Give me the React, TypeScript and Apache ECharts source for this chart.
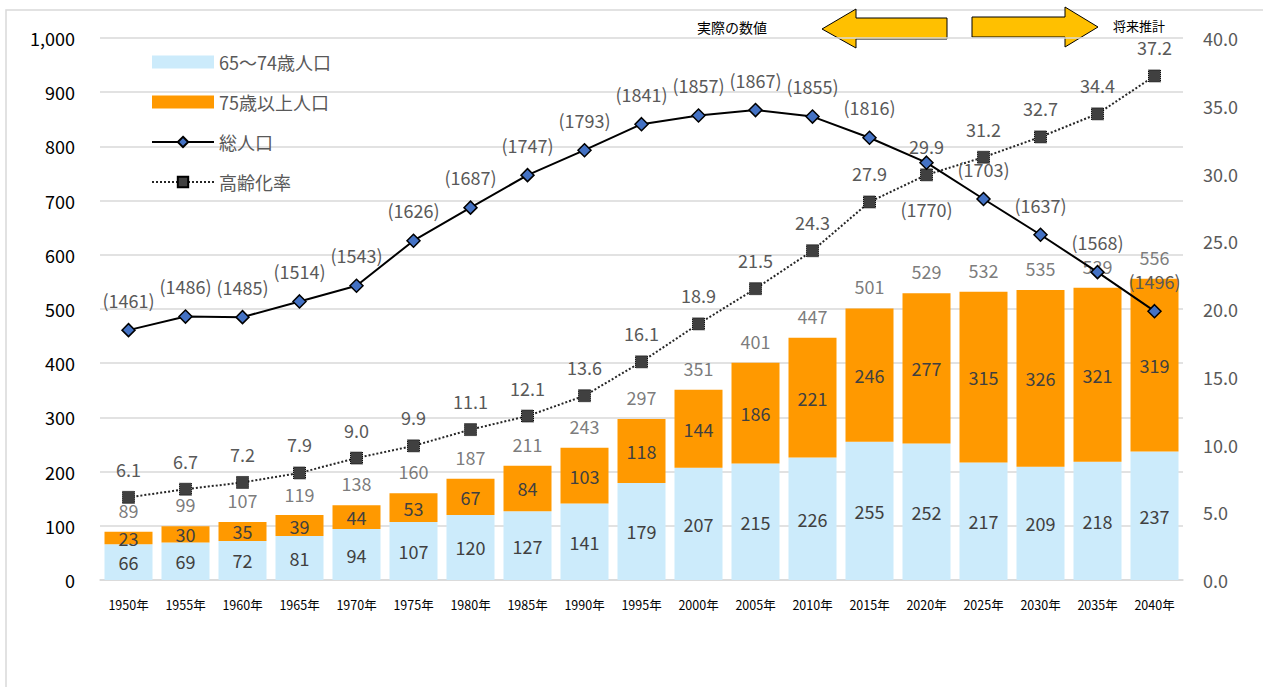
import React, { useEffect, useRef } from "react";
import * as echarts from "echarts";

const years = ["1950年","1955年","1960年","1965年","1970年","1975年","1980年","1985年","1990年","1995年","2000年","2005年","2010年","2015年","2020年","2025年","2030年","2035年","2040年"];
const pop65to74 = [66,69,72,81,94,107,120,127,141,179,207,215,226,255,252,217,209,218,237];
const pop75plus = [23,30,35,39,44,53,67,84,103,118,144,186,221,246,277,315,326,321,319];
const elderlyTotal = [89,99,107,119,138,160,187,211,243,297,351,401,447,501,529,532,535,539,556];
const totalPopulation = [1461,1486,1485,1514,1543,1626,1687,1747,1793,1841,1857,1867,1855,1816,1770,1703,1637,1568,1496];
const agingRate = [6.1,6.7,7.2,7.9,9.0,9.9,11.1,12.1,13.6,16.1,18.9,21.5,24.3,27.9,29.9,31.2,32.7,34.4,37.2];
const totalOffset = 1000; // total population plotted on the left axis as value - 1000

const FONT = "'Noto Sans CJK JP', 'Noto Sans', sans-serif";

export default function App() {
  const ref = useRef<HTMLDivElement>(null);
  useEffect(() => {
    if (!ref.current) return;
    const chart = echarts.init(ref.current, undefined, { renderer: "svg" });
    const labelGray = "#595959";
    chart.setOption({
      animation: false,
      backgroundColor: "#fff",
      textStyle: { fontFamily: FONT },
      grid: { left: 100, right: 80, top: 38, bottom: 107 },
      legend: {
        orient: "vertical",
        left: 146,
        top: 47,
        itemWidth: 62,
        itemHeight: 13,
        itemGap: 20,
        textStyle: { color: labelGray, fontSize: 18, fontFamily: FONT, lineHeight: 20 },
        data: [
          { name: "65～74歳人口", icon: "rect" },
          { name: "75歳以上人口", icon: "rect" },
          { name: "総人口" },
          { name: "高齢化率" },
        ],
      },
      xAxis: {
        type: "category",
        data: years,
        axisTick: { show: false },
        axisLine: { lineStyle: { color: "#d9d9d9", width: 1.5 } },
        axisLabel: { color: "#000", fontSize: 12.5, margin: 18, fontFamily: FONT },
      },
      yAxis: [
        {
          type: "value",
          min: 0,
          max: 1000,
          interval: 100,
          axisLabel: {
            color: "#000",
            fontSize: 18,
            margin: 25,
            fontFamily: FONT,
            formatter: (v: number) => v.toLocaleString("en-US"),
          },
          splitLine: { lineStyle: { color: "#d9d9d9", width: 1.5 } },
          axisLine: { show: false },
          axisTick: { show: false },
        },
        {
          type: "value",
          min: 0,
          max: 40,
          interval: 5,
          position: "right",
          axisLabel: {
            color: labelGray,
            fontSize: 18,
            margin: 20,
            fontFamily: FONT,
            formatter: (v: number) => v.toFixed(1),
          },
          splitLine: { show: false },
          axisLine: { show: false },
          axisTick: { show: false },
        },
      ],
      series: [
        {
          name: "65～74歳人口",
          type: "bar",
          stack: "elderly",
          barWidth: 48,
          data: pop65to74,
          itemStyle: { color: "#CCEBFB" },
          label: { show: true, position: "inside", color: "#404040", fontSize: 18, fontFamily: FONT },
          z: 2,
        },
        {
          name: "75歳以上人口",
          type: "bar",
          stack: "elderly",
          barWidth: 48,
          data: pop75plus,
          itemStyle: { color: "#FF9900" },
          label: { show: true, position: "inside", color: "#404040", fontSize: 18, fontFamily: FONT },
          z: 2,
        },
        {
          name: "合計",
          type: "scatter",
          data: elderlyTotal,
          symbolSize: 0,
          silent: true,
          label: { show: true, position: "top", distance: 13, color: labelGray, fontSize: 18, fontFamily: FONT },
          z: 3,
        },
        {
          name: "総人口",
          type: "line",
          data: totalPopulation.map((v, i) => ({
            value: v - totalOffset,
            label: i === 14 ? { position: "bottom", distance: 30 } : undefined,
          })),
          symbol: "diamond",
          symbolSize: 13,
          lineStyle: { color: "#000", width: 2 },
          itemStyle: { color: "#4472C4", borderColor: "#000", borderWidth: 1.5 },
          label: {
            show: true,
            position: "top",
            distance: 14,
            color: labelGray,
            fontSize: 18,
            fontFamily: FONT,
            formatter: (p: any) => "(" + totalPopulation[p.dataIndex] + ")",
          },
          z: 5,
        },
        {
          name: "高齢化率",
          type: "line",
          yAxisIndex: 1,
          data: agingRate,
          symbol: "rect",
          symbolSize: 12,
          lineStyle: { color: "#262626", width: 2, type: "dotted" },
          itemStyle: { color: "#404040", borderColor: "#000", borderWidth: 1, borderType: "dotted" },
          label: {
            show: true,
            position: "top",
            distance: 13,
            color: labelGray,
            fontSize: 18,
            fontFamily: FONT,
            formatter: (p: any) => Number(p.value).toFixed(1),
          },
          z: 4,
        },
      ],
      graphic: [
        {
          type: "rect",
          shape: { x: 6, y: 10, width: 1270, height: 700 },
          style: { fill: "none", stroke: "#d9d9d9", lineWidth: 1.5 },
          silent: true,
          z: -1,
        },
        {
          type: "polygon",
          shape: { points: [[822, 29], [856, 9], [856, 18], [947, 18], [947, 39], [856, 39], [856, 48]] },
          style: { fill: "#FFC000", stroke: "#000", lineWidth: 1 },
        },
        {
          type: "polygon",
          shape: { points: [[972, 17], [1065, 17], [1065, 7], [1098, 27], [1065, 47], [1065, 37], [972, 37]] },
          style: { fill: "#FFC000", stroke: "#000", lineWidth: 1 },
        },
        {
          type: "text",
          x: 697,
          y: 27,
          style: { text: "実際の数値", fill: "#000", fontSize: 14, fontFamily: FONT, textVerticalAlign: "middle" },
        },
        {
          type: "text",
          x: 1113,
          y: 25,
          style: { text: "将来推計", fill: "#000", fontSize: 13, fontFamily: FONT, textVerticalAlign: "middle" },
        },
      ],
    });
    return () => chart.dispose();
  }, []);
  return (
    <div
      ref={ref}
      style={{ position: "fixed", left: 0, top: 0, width: 1263, height: 687, background: "#fff" }}
    />
  );
}
